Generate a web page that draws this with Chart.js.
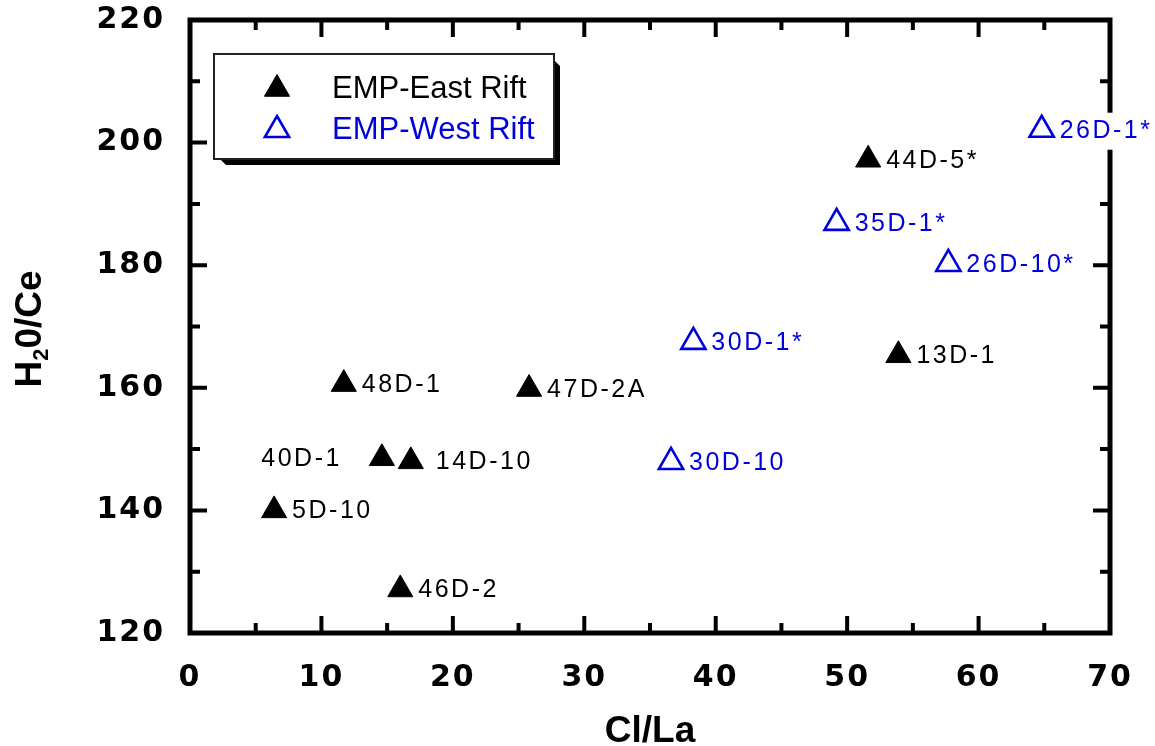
<!DOCTYPE html>
<html>
<head>
<meta charset="utf-8">
<script src="https://cdn.jsdelivr.net/npm/chart.js@4.4.1/dist/chart.umd.min.js"></script>
<style>
  html, body { margin: 0; padding: 0; background: #fff; }
  #wrap { width: 1155px; height: 746px; }
</style>
</head>
<body>
<div id="wrap"><canvas id="c" width="1155" height="746"></canvas></div>
<script>
// East Rift glasses (filled triangles)
const eastNames = ['44D-5*', '13D-1', '48D-1', '47D-2A', '40D-1', '14D-10', '5D-10', '46D-2'];
const eastClLa  = [51.6, 53.9, 11.7, 25.8, 14.6, 16.8, 6.4, 16.0];
const eastH2OCe = [197.2, 165.3, 160.6, 159.8, 148.5, 148.0, 140.0, 127.1];

// West Rift glasses (open triangles)
const westNames = ['26D-1*', '35D-1*', '26D-10*', '30D-1*', '30D-10'];
const westClLa  = [64.8, 49.2, 57.7, 38.3, 36.6];
const westH2OCe = [202.1, 186.9, 180.2, 167.5, 147.9];

// Labelled axis ticks
const xTicks = [0, 10, 20, 30, 40, 50, 60, 70];
const yTicks = [120, 140, 160, 180, 200, 220];

const BLUE = '#0000dd';

// Where a sample label sits relative to its marker
const labelPlacement = {
  '40D-1': { side: 'left', gap: 40 },
  '14D-10': { side: 'right', gap: 25 }
};
const DEFAULT_GAP = 18;

function toPoints(xs, ys) {
  return xs.map((x, i) => ({ x: x, y: ys[i] }));
}

// Midpoints between labelled ticks carry the short (minor) tick marks
function minorsOf(ticks) {
  const out = [];
  for (let i = 0; i < ticks.length - 1; i++) out.push((ticks[i] + ticks[i + 1]) / 2);
  return out;
}

// Letter spacing for the numeric tick labels; switched off before marks are drawn
const tickSpacing = {
  id: 'tickSpacing',
  beforeDraw(chart) { chart.ctx.letterSpacing = '2px'; },
  beforeDatasetsDraw(chart) { chart.ctx.letterSpacing = '0px'; }
};

// Heavy box frame with inward major/minor tick marks on all four sides
const frame = {
  id: 'frame',
  beforeDatasetsDraw(chart) {
    const { ctx, chartArea: a, scales } = chart;
    const xs = scales.x, ys = scales.y;
    ctx.save();
    ctx.strokeStyle = '#000';
    ctx.lineCap = 'butt';
    ctx.lineWidth = 4;
    const majorLen = 17, minorLen = 10;
    ctx.beginPath();
    const xMarks = xTicks.map(v => [v, majorLen]).concat(minorsOf(xTicks).map(v => [v, minorLen]));
    xMarks.forEach(([v, len]) => {
      const p = xs.getPixelForValue(v);
      ctx.moveTo(p, a.bottom); ctx.lineTo(p, a.bottom - len);
      ctx.moveTo(p, a.top); ctx.lineTo(p, a.top + len);
    });
    const yMarks = yTicks.map(v => [v, majorLen]).concat(minorsOf(yTicks).map(v => [v, minorLen]));
    yMarks.forEach(([v, len]) => {
      const p = ys.getPixelForValue(v);
      ctx.moveTo(a.left, p); ctx.lineTo(a.left + len, p);
      ctx.moveTo(a.right, p); ctx.lineTo(a.right - len, p);
    });
    ctx.stroke();
    ctx.lineWidth = 5;
    ctx.lineJoin = 'miter';
    ctx.strokeRect(a.left, a.top, a.right - a.left, a.bottom - a.top);
    ctx.restore();
  }
};

// Sample names beside each marker, on a white ground
const sampleLabels = {
  id: 'sampleLabels',
  afterDatasetsDraw(chart) {
    const ctx = chart.ctx;
    ctx.save();
    ctx.font = '25px "Liberation Sans", Arial, sans-serif';
    ctx.letterSpacing = '2.5px';
    ctx.textBaseline = 'middle';
    chart.data.datasets.forEach((ds, di) => {
      const meta = chart.getDatasetMeta(di);
      meta.data.forEach((el, i) => {
        const name = ds.names[i];
        const place = labelPlacement[name] || { side: 'right', gap: DEFAULT_GAP };
        const w = ctx.measureText(name).width;
        const y = el.y + 1;
        let x0;
        if (place.side === 'left') x0 = el.x - place.gap - w;
        else x0 = el.x + place.gap;
        ctx.fillStyle = '#fff';
        ctx.fillRect(x0 - 2, y - 18, w + 2, 37);
        ctx.fillStyle = ds.borderColor;
        ctx.textAlign = 'left';
        ctx.fillText(name, x0, y);
      });
    });
    ctx.restore();
  }
};

// Axis titles and the framed legend box
const decorations = {
  id: 'decorations',
  afterDraw(chart) {
    const ctx = chart.ctx;
    const a = chart.chartArea;
    ctx.save();
    ctx.letterSpacing = '0px';
    ctx.fillStyle = '#000';

    // x-axis title
    ctx.font = 'bold 37px "Liberation Sans", Arial, sans-serif';
    ctx.textAlign = 'center';
    ctx.textBaseline = 'alphabetic';
    ctx.fillText('Cl/La', (a.left + a.right) / 2, 742);

    // y-axis title with subscript
    ctx.save();
    ctx.translate(41, 329);
    ctx.rotate(-Math.PI / 2);
    ctx.textAlign = 'left';
    const big = 'bold 37px "Liberation Sans", Arial, sans-serif';
    const small = 'bold 22px "Liberation Sans", Arial, sans-serif';
    ctx.font = big; const wH = ctx.measureText('H').width; const wRest = ctx.measureText('0/Ce').width;
    ctx.font = small; const w2 = ctx.measureText('2').width;
    let tx = -(wH + w2 + wRest) / 2;
    ctx.font = big; ctx.fillText('H', tx, 0); tx += wH;
    ctx.font = small; ctx.fillText('2', tx, 7); tx += w2;
    ctx.font = big; ctx.fillText('0/Ce', tx, 0);
    ctx.restore();

    // legend: drop shadow, box, then one row per series
    const bx = 214, by = 54, bw = 340, bh = 105, sh = 6;
    ctx.fillStyle = '#000';
    ctx.beginPath();
    ctx.moveTo(bx + sh, by + bh);
    ctx.lineTo(bx + bw, by + bh);
    ctx.lineTo(bx + bw, by + sh);
    ctx.lineTo(bx + bw + sh, by + 2 * sh);
    ctx.lineTo(bx + bw + sh, by + bh + sh);
    ctx.lineTo(bx + 2 * sh, by + bh + sh);
    ctx.closePath();
    ctx.fill();
    ctx.fillStyle = '#fff';
    ctx.fillRect(bx, by, bw, bh);
    ctx.strokeStyle = '#222';
    ctx.lineWidth = 2;
    ctx.strokeRect(bx, by, bw, bh);

    ctx.font = '31px "Liberation Sans", Arial, sans-serif';
    ctx.textAlign = 'left';
    ctx.textBaseline = 'middle';
    const rows = [89, 130];
    chart.data.datasets.forEach((ds, di) => {
      const y = rows[di];
      ctx.fillStyle = ds.backgroundColor;
      ctx.strokeStyle = ds.borderColor;
      ctx.lineWidth = ds.borderWidth;
      Chart.helpers.drawPoint(ctx, {
        pointStyle: ds.pointStyle,
        rotation: 0,
        radius: ds.pointRadius,
        borderWidth: ds.borderWidth
      }, 277, y);
      ctx.fillStyle = ds.borderColor;
      ctx.fillText(ds.label, 332, y);
    });
    ctx.restore();
  }
};

const tickFont = { family: '"DejaVu Sans", sans-serif', size: 30, weight: 'bold' };

new Chart(document.getElementById('c'), {
  type: 'scatter',
  data: {
    datasets: [
      {
        label: 'EMP-East Rift',
        names: eastNames,
        data: toPoints(eastClLa, eastH2OCe),
        pointStyle: 'triangle',
        pointRadius: 14.5,
        borderWidth: 1,
        backgroundColor: '#000',
        borderColor: '#000'
      },
      {
        label: 'EMP-West Rift',
        names: westNames,
        data: toPoints(westClLa, westH2OCe),
        pointStyle: 'triangle',
        pointRadius: 14,
        borderWidth: 2.6,
        backgroundColor: '#fff',
        borderColor: BLUE
      }
    ]
  },
  options: {
    responsive: false,
    devicePixelRatio: 1,
    animation: false,
    events: [],
    clip: false,
    layout: { padding: { left: 0, right: 45, top: 20, bottom: 0 } },
    plugins: {
      legend: { display: false },
      tooltip: { enabled: false }
    },
    scales: {
      x: {
        type: 'linear',
        min: 0, max: 70,
        afterBuildTicks(scale) { scale.ticks = xTicks.map(v => ({ value: v })); },
        afterFit(scale) { scale.height = 113; scale.paddingLeft = 0; scale.paddingRight = 0; },
        grid: { display: false, drawTicks: false },
        border: { display: false },
        ticks: { color: '#000', font: tickFont, padding: 27, maxRotation: 0, autoSkip: false }
      },
      y: {
        type: 'linear',
        min: 120, max: 220,
        afterBuildTicks(scale) { scale.ticks = yTicks.map(v => ({ value: v })); },
        afterFit(scale) { scale.width = 190; scale.paddingTop = 0; scale.paddingBottom = 0; },
        grid: { display: false, drawTicks: false },
        border: { display: false },
        ticks: { color: '#000', font: tickFont, padding: 25, autoSkip: false }
      }
    }
  },
  plugins: [tickSpacing, frame, sampleLabels, decorations]
});
</script>
</body>
</html>
